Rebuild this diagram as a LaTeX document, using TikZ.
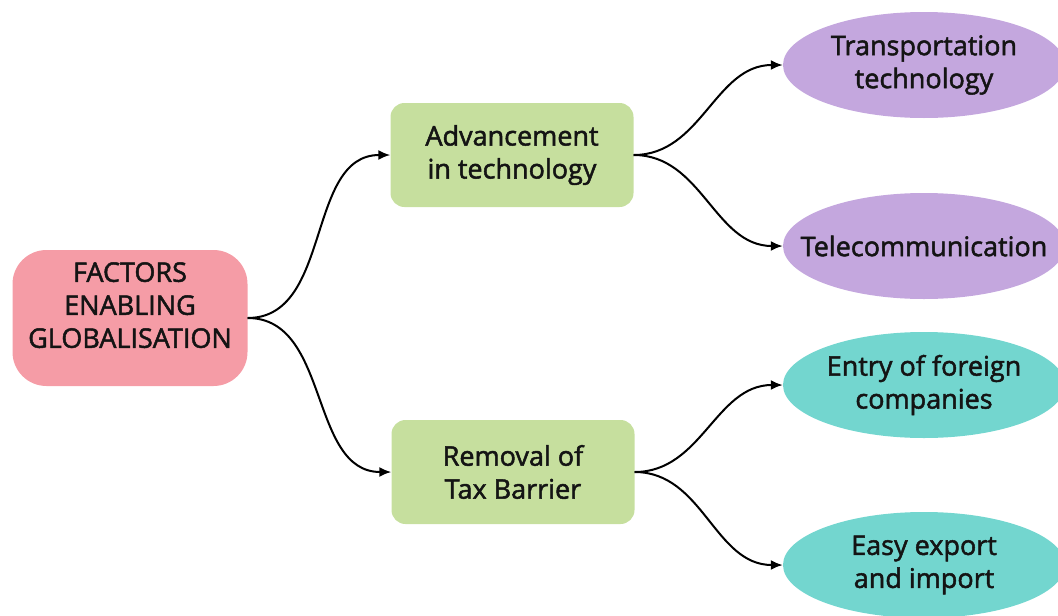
\documentclass[tikz,border=0pt]{standalone}
\usepackage{fontspec}
\setmainfont{Open Sans}[FakeBold=1.8]
\usepackage{tikz}
\usetikzlibrary{arrows.meta, shapes.geometric}
\definecolor{rootpink}{RGB}{245, 156, 166}
\definecolor{branchgreen}{RGB}{198, 223, 158}
\definecolor{leafpurple}{RGB}{196, 167, 222}
\definecolor{leafteal}{RGB}{115, 214, 207}
\definecolor{inktext}{RGB}{20, 20, 20}

\begin{document}
\begin{tikzpicture}[
  x=1pt, y=-1pt,
  every node/.style={font=\fontsize{27}{33}\selectfont, text=inktext, align=center},
  rootbox/.style={rounded corners=34pt, fill=rootpink, minimum width=235pt, minimum height=136pt, text depth=26pt},
  branchbox/.style={rounded corners=14pt, fill=branchgreen, minimum width=243pt, minimum height=104pt},
  leaf/.style={ellipse, inner sep=0pt, minimum width=282pt, minimum height=106pt},
  arr/.style={-{Latex[length=12pt, width=10pt]}, line width=2pt, black},
]
  \useasboundingbox (0,0) rectangle (1058,616);
  \clip (0,0) rectangle (1058,616);

  \node[rootbox] (root) at (130, 318) {FACTORS\\ENABLING\\GLOBALISATION};
  \node[branchbox] (tech) at (512, 155) {Advancement\\in technology};
  \node[branchbox] (tax) at (513, 472) {Removal of\\Tax Barrier};

  % ellipses keep their size, the text sits on top
  \node[leaf, fill=leafpurple, label={[align=center]center:Transportation\\technology}] (transport) at (924, 65) {};
  \node[leaf, fill=leafpurple, label={center:Telecommunication}] (telecom) at (924, 246) {};
  \node[leaf, fill=leafteal, label={[align=center]center:Entry of foreign\\companies}] (entry) at (924, 385) {};
  \node[leaf, fill=leafteal, label={[align=center]center:Easy export\\and import}] (trade) at (924, 565) {};

  \draw[arr] (root.east) to[out=0, in=180] (tech.west);
  \draw[arr] (root.east) to[out=0, in=180] (tax.west);
  \draw[arr] (tech.east) to[out=0, in=180] (transport.west);
  \draw[arr] (tech.east) to[out=0, in=180] (telecom.west);
  \draw[arr] (tax.east) to[out=0, in=180] (entry.west);
  \draw[arr] (tax.east) to[out=0, in=180] (trade.west);
\end{tikzpicture}
\end{document}
